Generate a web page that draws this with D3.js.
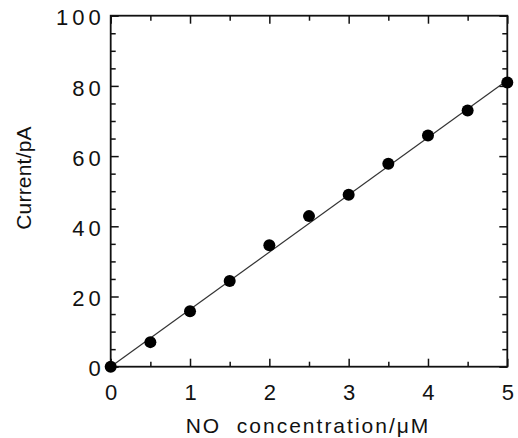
<!DOCTYPE html>
<html>
<head>
<meta charset="utf-8">
<script src="https://cdn.jsdelivr.net/npm/d3@7"></script>
<style>
  body { margin: 0; background: #fff; }
  svg { display: block; }
  text { font-family: "Liberation Sans", Arial, sans-serif; fill: #111; }
</style>
</head>
<body>
<svg width="518" height="438"></svg>
<script>
// data
var concentration = [0, 0.5, 1, 1.5, 2, 2.5, 3, 3.5, 4, 4.5, 5];
var current = [0, 7, 15.8, 24.4, 34.6, 42.9, 49, 57.8, 65.9, 73, 81];
var fitLine = [[0, 0], [5, 81.6]];
var xTicks = [0, 1, 2, 3, 4, 5];
var xMinorTicks = [0.5, 1.5, 2.5, 3.5, 4.5];
var yTicks = [0, 20, 40, 60, 80, 100];
var yMinorTicks = [5, 10, 15, 25, 30, 35, 45, 50, 55, 65, 70, 75, 85, 90, 95];

var svg = d3.select("svg");
var plotLeft = 110.7, plotRight = 507.3, plotTop = 15.7, plotBottom = 366.7;

var x = d3.scaleLinear().domain([0, 5]).range([plotLeft, plotRight]);
var y = d3.scaleLinear().domain([0, 100]).range([plotBottom, plotTop]);

function clean(g) {
  g.select(".domain").remove();
  g.selectAll(".tick line").attr("stroke", "#111").attr("stroke-width", 1.5);
}

// bottom axis
svg.append("g")
  .attr("transform", "translate(0," + plotBottom + ")")
  .call(d3.axisBottom(x).tickValues(xTicks).tickSize(-8).tickPadding(17.7).tickFormat(d3.format("d")))
  .call(clean)
  .selectAll("text")
    .attr("font-size", 22)
    .style("font-family", "Liberation Sans, Arial, sans-serif");

svg.append("g")
  .attr("transform", "translate(0," + plotBottom + ")")
  .call(d3.axisBottom(x).tickValues(xMinorTicks).tickSize(-5).tickFormat(""))
  .call(clean);

// top axis
svg.append("g")
  .attr("transform", "translate(0," + plotTop + ")")
  .call(d3.axisTop(x).tickValues(xTicks).tickSize(-8).tickFormat(""))
  .call(clean);
svg.append("g")
  .attr("transform", "translate(0," + plotTop + ")")
  .call(d3.axisTop(x).tickValues(xMinorTicks).tickSize(-5).tickFormat(""))
  .call(clean);

// left axis
svg.append("g")
  .attr("transform", "translate(" + plotLeft + ",0)")
  .call(d3.axisLeft(y).tickValues(yTicks).tickSize(-8).tickPadding(6).tickFormat(d3.format("d")))
  .call(clean)
  .selectAll("text")
    .attr("font-size", 22)
    .attr("dy", "0.42em")
    .style("letter-spacing", "4px")
    .style("font-family", "Liberation Sans, Arial, sans-serif");

svg.append("g")
  .attr("transform", "translate(" + plotLeft + ",0)")
  .call(d3.axisLeft(y).tickValues(yMinorTicks).tickSize(-5).tickFormat(""))
  .call(clean);

// right axis
svg.append("g")
  .attr("transform", "translate(" + plotRight + ",0)")
  .call(d3.axisRight(y).tickValues(yTicks).tickSize(-8).tickFormat(""))
  .call(clean);
svg.append("g")
  .attr("transform", "translate(" + plotRight + ",0)")
  .call(d3.axisRight(y).tickValues(yMinorTicks).tickSize(-5).tickFormat(""))
  .call(clean);

// frame
svg.append("rect")
  .attr("x", plotLeft).attr("y", plotTop)
  .attr("width", plotRight - plotLeft).attr("height", plotBottom - plotTop)
  .attr("fill", "none")
  .attr("stroke", "#111")
  .attr("stroke-width", 1.8);

// fit line
svg.append("path")
  .datum(fitLine)
  .attr("d", d3.line().x(function(d) { return x(d[0]); }).y(function(d) { return y(d[1]); }))
  .attr("fill", "none")
  .attr("stroke", "#333")
  .attr("stroke-width", 1.2);

// points
svg.append("g").selectAll("circle")
  .data(concentration)
  .enter()
  .append("circle")
    .attr("cx", function(d) { return x(d); })
    .attr("cy", function(d, i) { return y(current[i]); })
    .attr("r", 6)
    .attr("fill", "#000");

// axis titles
svg.append("text")
  .attr("x", 308)
  .attr("y", 433)
  .attr("text-anchor", "middle")
  .attr("font-size", 21)
  .style("letter-spacing", "2px")
  .style("white-space", "pre")
  .text("NO  concentration/\u03bcM");

svg.append("text")
  .attr("transform", "translate(31,178) rotate(-90)")
  .attr("text-anchor", "middle")
  .attr("font-size", 21)
  .style("letter-spacing", "0.2px")
  .text("Current/pA");
</script>
</body>
</html>
